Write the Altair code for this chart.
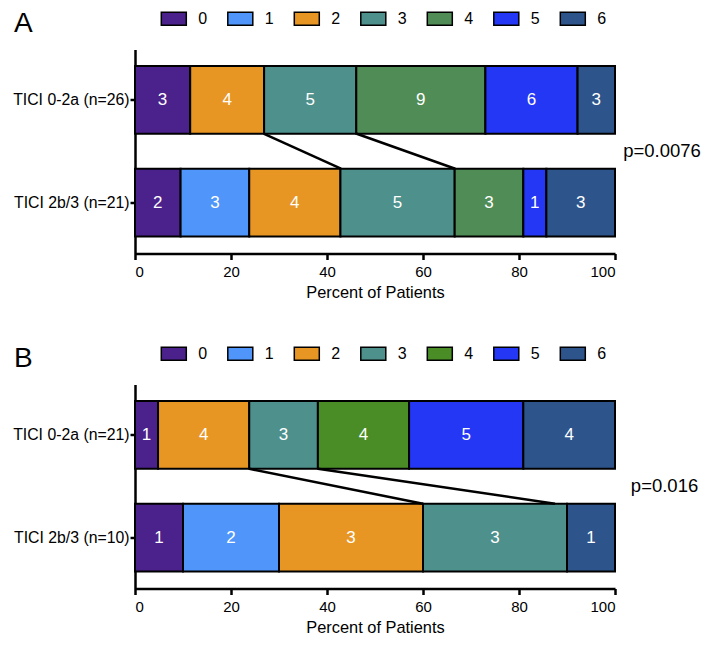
import altair as alt
import pandas as pd

FONT = "Liberation Sans, Arial, Helvetica, sans-serif"

CATS = ["0", "1", "2", "3", "4", "5", "6"]
COLORS_A = ["#4B218C", "#5096FA", "#E89623", "#4E908C", "#508C55", "#2337F5", "#2D558C"]
COLORS_B = ["#4B218C", "#5096FA", "#E89623", "#4E908C", "#4A8C26", "#2337F5", "#2D558C"]

# Panel A
A_ROWS = ["TICI 0-2a (n=26)", "TICI 2b/3 (n=21)"]
A_PCT_1 = [11.5, 0, 15.4, 19.2, 26.9, 19.2, 7.8]
A_LBL_1 = ["3", "", "4", "5", "9", "6", "3"]
A_PCT_2 = [9.5, 14.3, 19.0, 23.8, 14.3, 4.8, 14.3]
A_LBL_2 = ["2", "3", "4", "5", "3", "1", "3"]
A_LINK_FROM = [26.9, 46.2]
A_LINK_TO = [42.9, 66.7]
A_P_TEXT = "p=0.0076"
A_P_X = 101.7

# Panel B
B_ROWS = ["TICI 0-2a (n=21)", "TICI 2b/3 (n=10)"]
B_PCT_1 = [4.8, 0, 19.0, 14.3, 19.0, 23.8, 19.1]
B_LBL_1 = ["1", "", "4", "3", "4", "5", "4"]
B_PCT_2 = [10.0, 20.0, 30.0, 30.0, 0, 0, 10.0]
B_LBL_2 = ["1", "2", "3", "3", "", "", "1"]
B_LINK_FROM = [23.8, 38.1]
B_LINK_TO = [60.0, 87.5]
B_P_TEXT = "p=0.016"
B_P_X = 103.3

HALF = 0.33  # half bar thickness in row units
SWATCH = "M-1.5625,-0.8125H1.5625V0.8125H-1.5625Z"  # 25 x 13 px at size 256


def panel(letter, rows, pct1, lbl1, pct2, lbl2, lfrom, lto, ptext, px, colors):
    recs = []
    for ri, (pcts, lbls) in enumerate([(pct1, lbl1), (pct2, lbl2)]):
        for c, p, l in zip(CATS, pcts, lbls):
            if p > 0:
                recs.append({"row": ri + 1, "cat": c, "order": int(c), "pct": p, "label": l})
    df = pd.DataFrame(recs)
    links = pd.DataFrame({"xf": lfrom, "xt": lto})
    pdf = pd.DataFrame({"x": [px], "y": [1.5], "t": [ptext]})

    xsc = alt.Scale(domain=[0, 100], nice=False, zero=False)
    ysc = alt.Scale(domain=[0.51, 2.495], reverse=True, nice=False, zero=False)
    xax = alt.Axis(values=[0, 20, 40, 60, 80, 100], title="Percent of Patients",
                   tickSize=6, labelPadding=5, titlePadding=5, labelFontSize=15)
    label_expr = f"datum.value == 1 ? '{rows[0]}' : '{rows[1]}'"
    yax = alt.Axis(values=[1, 2], labelExpr=label_expr, title=None, tickSize=5,
                   labelPadding=1, labelFontSize=15.8)

    stacked = alt.Chart(df).transform_stack(
        stack="pct", groupby=["row"], sort=[alt.SortField("order")], as_=["x0", "x1"]
    ).transform_calculate(
        y0=f"datum.row - {HALF}", y1=f"datum.row + {HALF}", xm="(datum.x0 + datum.x1) / 2"
    )
    bars = stacked.mark_bar(stroke="black", strokeWidth=2).encode(
        x=alt.X("x0:Q", scale=xsc, axis=xax),
        x2="x1:Q",
        y=alt.Y("y0:Q", scale=ysc, axis=yax),
        y2="y1:Q",
        fill=alt.Fill(
            "cat:N",
            scale=alt.Scale(domain=CATS, range=colors),
            legend=alt.Legend(
                title=letter, titleOrient="left", titleAnchor="start",
                titleBaseline="top", titleFontSize=28, titleFontWeight="normal",
                titleFont=FONT, titleColor="black", titlePadding=131.8,
                orient="none", legendX=-121, legendY=-40,
                direction="horizontal", columns=7,
                symbolType=SWATCH, symbolSize=256,
                symbolStrokeColor="black", symbolStrokeWidth=1.5, symbolOpacity=1,
                labelFontSize=16, labelFont=FONT, labelColor="black",
                labelOffset=15.5, columnPadding=16.5,
            ),
        ),
    )
    texts = stacked.mark_text(color="white", fontSize=17, font=FONT, baseline="middle").encode(
        x=alt.X("xm:Q", scale=xsc, axis=xax),
        y=alt.Y("row:Q", scale=ysc, axis=yax),
        text="label:N",
    )
    lines = alt.Chart(links).transform_calculate(
        yf=f"1 + {HALF}", yt=f"2 - {HALF}"
    ).mark_rule(color="black", strokeWidth=2.5).encode(
        x=alt.X("xf:Q", scale=xsc, axis=xax),
        x2="xt:Q",
        y=alt.Y("yf:Q", scale=ysc, axis=yax),
        y2="yt:Q",
    )
    ptxt = alt.Chart(pdf).mark_text(align="left", baseline="middle", fontSize=18.5,
                                    font=FONT, color="black").encode(
        x=alt.X("x:Q", scale=xsc, axis=xax),
        y=alt.Y("y:Q", scale=ysc, axis=yax),
        text="t:N",
    )
    return alt.layer(bars, lines, texts, ptxt).properties(width=480, height=204)


pa = panel("A", A_ROWS, A_PCT_1, A_LBL_1, A_PCT_2, A_LBL_2, A_LINK_FROM, A_LINK_TO,
           A_P_TEXT, A_P_X, COLORS_A)
pb = panel("B", B_ROWS, B_PCT_1, B_LBL_1, B_PCT_2, B_LBL_2, B_LINK_FROM, B_LINK_TO,
           B_P_TEXT, B_P_X, COLORS_B)

chart = alt.vconcat(pa, pb, spacing=43).resolve_scale(
    color="independent", fill="independent"
).resolve_legend(fill="independent").properties(
    padding={"left": 4, "top": 1.5, "right": 0, "bottom": 0}
).configure_view(stroke=None).configure_axis(
    domainColor="black", domainWidth=2.5, tickColor="black", tickWidth=2.5,
    labelColor="black", labelFont=FONT, titleFont=FONT,
    titleFontSize=16.4, titleFontWeight="normal", titleColor="black", grid=False,
)

chart.save("out.html", embed_options={"renderer": "svg", "actions": False})
